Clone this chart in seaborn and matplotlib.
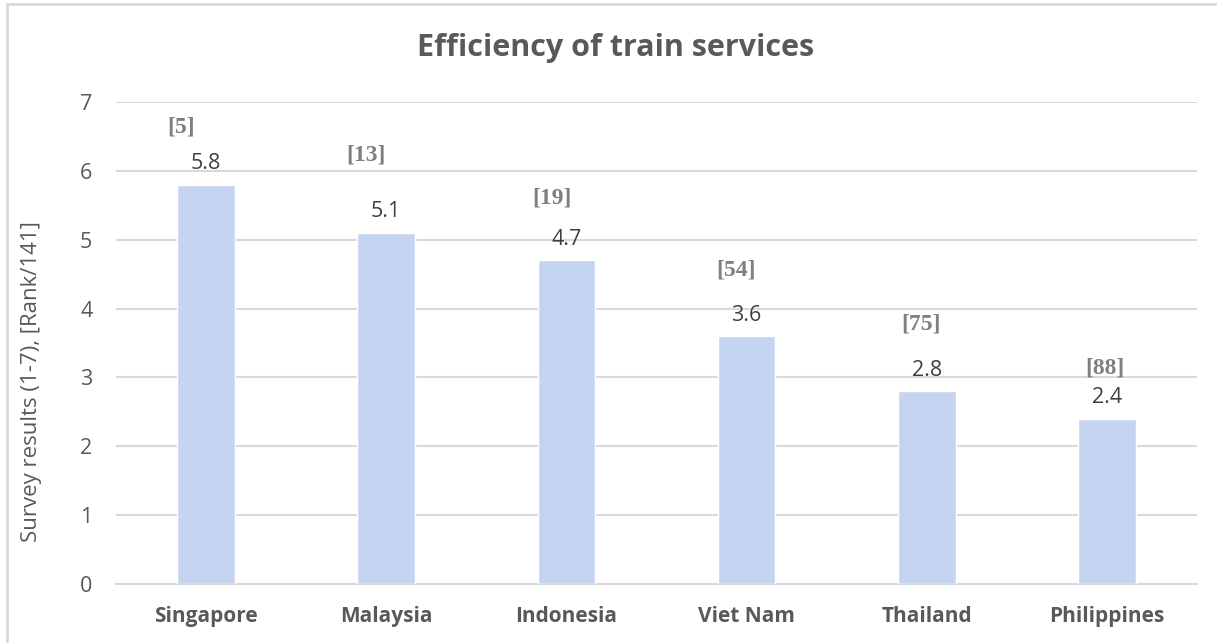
import matplotlib
matplotlib.use("Agg")
import matplotlib.pyplot as plt
import seaborn as sns
import pandas as pd
from matplotlib.lines import Line2D

# Chart data
countries = ['Singapore', 'Malaysia', 'Indonesia', 'Viet Nam', 'Thailand', 'Philippines']
scores = [5.8, 5.1, 4.7, 3.6, 2.8, 2.4]
ranks = [5, 13, 19, 54, 75, 88]

# placement of the rank labels above each bar (layout only)
rank_dy = [0.83, 1.13, 0.90, 0.96, 0.97, 0.73]
rank_dx = [-0.14, -0.11, -0.08, -0.06, -0.03, -0.01]

df = pd.DataFrame({'country': countries, 'score': scores})

sns.set_theme(style='white')
plt.rcParams['font.family'] = ['Open Sans', 'DejaVu Sans']

grey = '#595959'
grid = '#d9d9d9'

fig = plt.figure(figsize=(12.17, 6.43), dpi=100)
ax = fig.add_axes([0.0953, 0.0918, 0.8883, 0.7496])

sns.barplot(data=df, x='country', y='score', order=countries, color='#c5d5f1',
            saturation=1, width=0.32, ax=ax, zorder=3)

ax.set_ylim(0, 7)
ax.set_yticks(range(0, 8))
ax.yaxis.grid(True, color=grid, linewidth=1.5, zorder=0)
ax.set_axisbelow(True)
for s in ['top', 'right', 'left']:
    ax.spines[s].set_visible(False)
ax.spines['bottom'].set_color(grid)
ax.spines['bottom'].set_linewidth(1.5)
ax.tick_params(axis='both', length=0, colors=grey)
ax.tick_params(axis='x', pad=16, labelsize=15)
ax.tick_params(axis='y', pad=17, labelsize=15.5)
for lbl in ax.get_xticklabels():
    lbl.set_fontweight('bold')
ax.set_xlabel('')
ax.set_ylabel('Survey results (1-7), [Rank/141]', color=grey, fontsize=16)
ax.yaxis.label.set_va('center')
ax.yaxis.set_label_coords(-0.0777, 0.419)

# value labels
for i, v in enumerate(scores):
    ax.annotate(f'{v}', (i, v), xytext=(0, 15), textcoords='offset points',
                ha='center', va='center', fontsize=15.5, color='#404040')

# rank labels
for i, (v, r) in enumerate(zip(scores, ranks)):
    ax.text(i + rank_dx[i], v + rank_dy[i], f'[{r}]', ha='center', va='center',
            fontsize=17, fontweight='bold', color='#7f7f7f',
            family=['Liberation Serif', 'DejaVu Serif'])

fig.text(0.506, 0.925, 'Efficiency of train services', ha='center', va='center',
         fontsize=22, fontweight='bold', color=grey)

# light frame around the chart area
fig.add_artist(Line2D([7 / 1217, 1], [1 - 4 / 643, 1 - 4 / 643], transform=fig.transFigure,
                      color=grid, linewidth=2))
fig.add_artist(Line2D([7 / 1217, 7 / 1217], [0, 1 - 4 / 643], transform=fig.transFigure,
                      color=grid, linewidth=2))

fig.savefig('out.png', dpi=100, facecolor='white')
